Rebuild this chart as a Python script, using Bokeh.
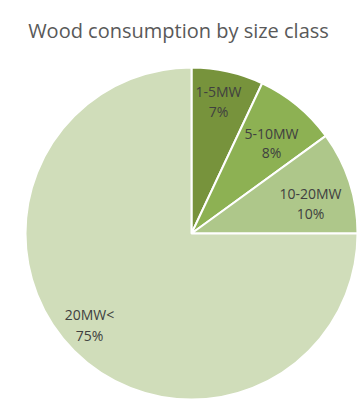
from math import pi
from bokeh.plotting import figure
from bokeh.models import Range1d, ColumnDataSource
from bokeh.core.properties import value
from bokeh.embed import file_html
from bokeh.resources import INLINE

title = "Wood consumption by size class"
categories = ["1-5MW", "5-10MW", "10-20MW", "20MW<"]
shares = [7, 8, 10, 75]
colors = ["#77933C", "#8DB153", "#AEC78A", "#D0DDBA"]

# page-pixel based data coordinates (y up)
W, H = 361, 399
p = figure(width=W, height=H, x_range=Range1d(0, 361), y_range=Range1d(0, 399),
           output_backend="svg", toolbar_location=None, min_border=0,
           background_fill_color="white", border_fill_color="white")
p.axis.visible = False
p.grid.visible = False
p.outline_line_color = None

cx, cy, r = 191, 166, 166
total = sum(shares)
starts, ends = [], []
acc = 0.0
for s in shares:
    a0 = pi / 2 - 2 * pi * acc / total
    acc += s
    a1 = pi / 2 - 2 * pi * acc / total
    starts.append(a0)
    ends.append(a1)

src = ColumnDataSource(dict(start=starts, end=ends, color=colors, cat=categories))
p.wedge(x=cx, y=cy, radius=r, start_angle="start", end_angle="end",
        direction="clock", fill_color="color", line_color="white", line_width=2,
        source=src)

# labels: category name and percent
lab_x = [218, 271, 310, 89]
lab_y1 = [399 - 91, 399 - 132.5, 399 - 192.5, 399 - 313.5]
lab_y2 = [399 - 111, 399 - 152, 399 - 212.5, 399 - 335]
pct = [f"{s}%" for s in shares]
p.text(x=lab_x, y=lab_y1, text=categories, text_align="center", text_baseline="middle",
       text_font=value("Open Sans"), text_font_size="14px", text_color="#404040")
p.text(x=lab_x, y=lab_y2, text=pct, text_align="center", text_baseline="middle",
       text_font=value("Open Sans"), text_font_size="14px", text_color="#404040")

p.text(x=[178], y=[399 - 30], text=[title], text_align="center", text_baseline="alphabetic",
       text_font=value("Open Sans"), text_font_size="20px", text_color="#595959")

open("out.html", "w").write(file_html(p, INLINE))
